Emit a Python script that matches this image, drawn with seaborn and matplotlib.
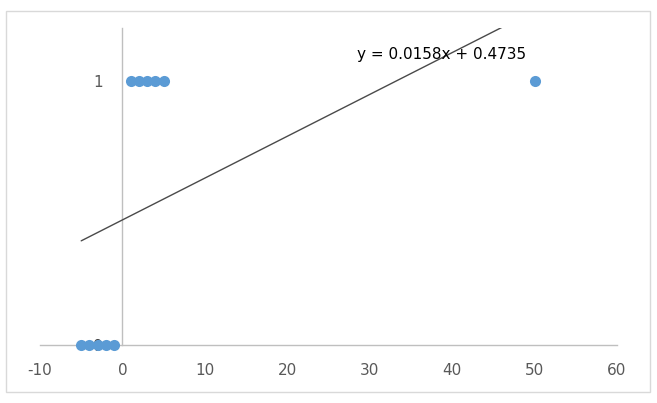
import numpy as np
import pandas as pd
import matplotlib.pyplot as plt
import matplotlib.patches as patches
import seaborn as sns

# data
x_vals = [-5, -4, -3, -2, -1, 1, 2, 3, 4, 5, 50]
y_vals = [0, 0, 0, 0, 0, 1, 1, 1, 1, 1, 1]
x_ticks = [-10, 0, 10, 20, 30, 40, 50, 60]
y_ticks = [0, 1]

df = pd.DataFrame({'x': x_vals, 'y': y_vals})
slope, intercept = np.polyfit(df['x'], df['y'], 1)

sns.set_style('white')
plt.rcParams['font.family'] = ['DejaVu Sans']
plt.rcParams['axes.unicode_minus'] = False

fig = plt.figure(figsize=(6.57, 4.03), dpi=100)
ax = fig.add_axes([40 / 657, 58 / 403, 577 / 657, 317 / 403])

sns.regplot(data=df, x='x', y='y', ax=ax, ci=None,
            scatter_kws={'color': '#5B9BD5', 's': 64, 'clip_on': False,
                         'zorder': 2, 'linewidths': 0, 'alpha': 1},
            line_kws={'color': '#4A4A4A', 'lw': 1.0, 'zorder': 1.5})

ax.set_xlim(-10, 60)
ax.set_ylim(0, 1.2)
ax.set_xticks(x_ticks)
ax.set_yticks(y_ticks)
ax.set_xlabel('')
ax.set_ylabel('')

# axes crossing at zero, like the spreadsheet chart
for side in ['top', 'right']:
    ax.spines[side].set_visible(False)
ax.spines['left'].set_position(('data', 0))
ax.spines['bottom'].set_position(('data', 0))
for side in ['left', 'bottom']:
    ax.spines[side].set_color('#BFBFBF')
    ax.spines[side].set_linewidth(1)
    ax.spines[side].set_zorder(0.5)

ax.tick_params(axis='x', length=0, pad=13, labelsize=11, labelcolor='#595959')
ax.tick_params(axis='y', length=0, pad=14, labelsize=11, labelcolor='#595959')
ax.get_yticklabels()[0].set_color('#3F3F3F')

ax.text(38.7, 1.098, f'y = {slope:.4f}x + {intercept:.4f}', ha='center', va='center',
        fontsize=11, color='black')

# outer chart border
fig.patches.append(patches.Rectangle((6 / 657, 11 / 403), 644 / 657, 381 / 403,
                                     transform=fig.transFigure, fill=False,
                                     edgecolor='#D9D9D9', lw=1))

fig.savefig('out.png', dpi=100)
